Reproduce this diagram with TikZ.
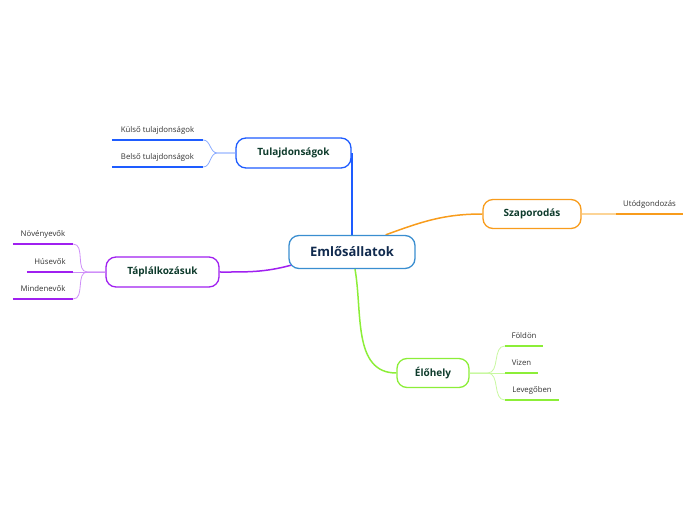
\documentclass[tikz,border=0pt]{standalone}
\usepackage{fontspec}
\setmainfont{Open Sans}
\usetikzlibrary{backgrounds,calc}
\definecolor{rootblue}{RGB}{58,142,208}
\definecolor{roottext}{RGB}{16,42,78}
\definecolor{topictext}{RGB}{14,59,44}
\definecolor{leaftext}{RGB}{51,51,51}
\definecolor{propblue}{RGB}{30,92,255}
\definecolor{propbluelight}{RGB}{140,172,255}
\definecolor{szaporange}{RGB}{248,156,28}
\definecolor{szaporangelight}{RGB}{252,212,150}
\definecolor{foodpurple}{RGB}{160,32,240}
\definecolor{foodpurplelight}{RGB}{206,142,248}
\definecolor{habgreen}{RGB}{140,238,56}
\definecolor{habgreenlight}{RGB}{200,248,160}
\tikzset{
  rootbox/.style={rectangle, rounded corners=10pt, draw=rootblue, line width=1.3pt,
    fill=white, minimum width=126pt, minimum height=33pt,
    font=\fontsize{13}{15}\selectfont\bfseries, text=roottext},
  topicbox/.style={rectangle, rounded corners=10pt, draw=#1, line width=1.3pt,
    fill=white, minimum height=30pt,
    font=\fontsize{10}{12}\selectfont\bfseries, text=topictext},
  leaf/.style={inner xsep=0pt, inner ysep=5pt, text depth=2pt, minimum width=#1,
    anchor=south, font=\fontsize{7.8}{9}\selectfont, text=leaftext},
  mainlink/.style={draw=#1, line width=1.5pt},
  sublink/.style={draw=#1, line width=0.8pt},
  underline/.style={draw=#1, line width=2.2pt}
}

\begin{document}
\begin{tikzpicture}[x=1pt, y=1pt]
  \useasboundingbox (0,0) rectangle (696,520);

  % --- root ---
  \node[rootbox] (root) at (352,268) {Emlősállatok};

  % --- topics ---
  \node[topicbox=propblue, minimum width=115pt] (tul) at (293.5,367) {Tulajdonságok};
  \node[topicbox=szaporange, minimum width=98pt, minimum height=29pt] (szap) at (532,306) {Szaporodás};
  \node[topicbox=foodpurple, minimum width=113pt] (tap) at (162.5,248) {Táplálkozásuk};
  \node[topicbox=habgreen, minimum width=72pt, minimum height=29pt] (elo) at (433,147) {Élőhely};

  % --- leaves ---
  \node[leaf=91pt] (kulso) at (157.5,380) {Külső tulajdonságok};
  \node[leaf=91pt] (belso) at (157.5,353) {Belső tulajdonságok};
  \node[leaf=67pt] (utod) at (649.5,306) {Utódgondozás};
  \node[leaf=60pt] (noveny) at (43,276) {Növényevők};
  \node[leaf=46pt] (hus) at (50,248) {Húsevők};
  \node[leaf=60pt] (minden) at (43,221) {Mindenevők};
  \node[leaf=38pt] (foldon) at (524,174) {Földön};
  \node[leaf=33pt] (vizen) at (521.5,147) {Vizen};
  \node[leaf=54pt] (levego) at (532,120) {Levegőben};

  % underlines
  \draw[underline=propblue] (kulso.south west) -- (kulso.south east);
  \draw[underline=propblue] (belso.south west) -- (belso.south east);
  \draw[underline=szaporange] (utod.south west) -- (utod.south east);
  \draw[underline=foodpurple] (noveny.south west) -- (noveny.south east);
  \draw[underline=foodpurple] (hus.south west) -- (hus.south east);
  \draw[underline=foodpurple] (minden.south west) -- (minden.south east);
  \draw[underline=habgreen] (foldon.south west) -- (foldon.south east);
  \draw[underline=habgreen] (vizen.south west) -- (vizen.south east);
  \draw[underline=habgreen] (levego.south west) -- (levego.south east);

  % ---------------- edges ----------------
  \begin{scope}[on background layer]
    \draw[mainlink=propblue] (root.north) -- (root.north |- tul.center);
    \draw[mainlink=szaporange] ([xshift=-30pt]root.north east) to[out=20,in=180] (szap.west);
    \draw[mainlink=foodpurple] ([xshift=3pt,yshift=4pt]root.south west) to[out=195,in=0] (tap.east);
    \draw[mainlink=habgreen] ([xshift=3pt]root.south) to[out=-80,in=180] (elo.west);
  \end{scope}

  % topic to leaves
  \draw[sublink=propbluelight] (tul.west) -- ++(-18,0) to[out=180,in=0] (kulso.south east);
  \draw[sublink=propbluelight] (tul.west) -- ++(-18,0) to[out=180,in=0] (belso.south east);

  \draw[szaporangelight, line width=1.6pt] (szap.east) -- (utod.south west);

  \draw[sublink=foodpurplelight] (tap.west) -- ++(-18,0) to[out=180,in=0] (noveny.south east);
  \draw[sublink=foodpurplelight] (tap.west) -- (hus.south east);
  \draw[sublink=foodpurplelight] (tap.west) -- ++(-18,0) to[out=180,in=0] (minden.south east);

  \draw[sublink=habgreenlight] (elo.east) -- ++(18,0) to[out=0,in=180] (foldon.south west);
  \draw[sublink=habgreenlight] (elo.east) -- (vizen.south west);
  \draw[sublink=habgreenlight] (elo.east) -- ++(18,0) to[out=0,in=180] (levego.south west);

\end{tikzpicture}
\end{document}
